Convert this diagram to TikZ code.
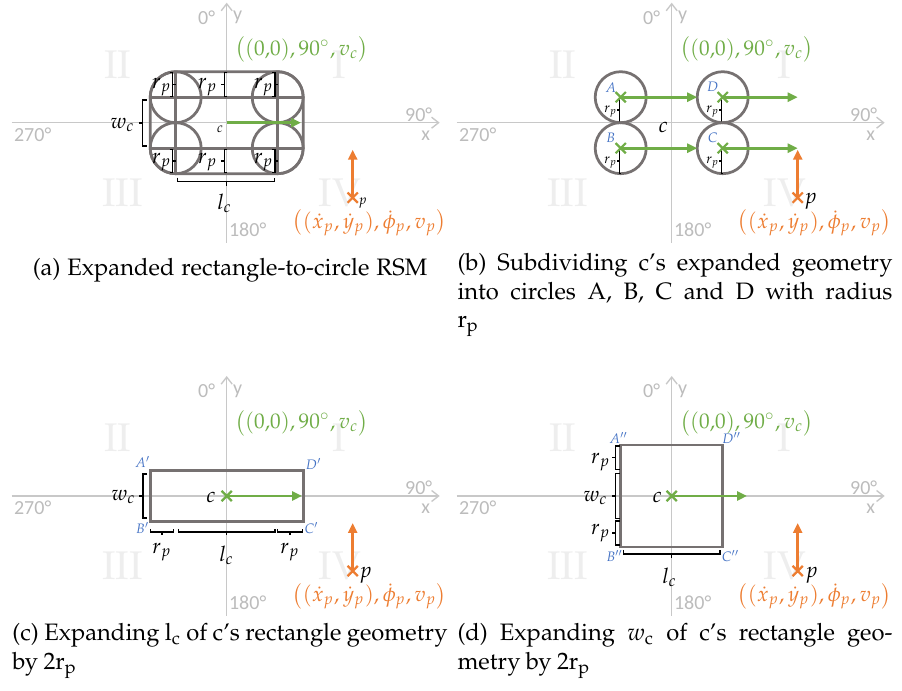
\documentclass[tikz,border=0pt]{standalone}
\usepackage{mathpazo}
\usepackage[no-math]{fontspec}
\newfontfamily\axisfont{Carlito}
\newcommand{\palfont}{\fontencoding{OT1}\fontfamily{pplx}\selectfont}
\usetikzlibrary{arrows.meta,shapes.misc}
\usepackage{xcolor}
\definecolor{axisgray}{RGB}{200,200,200}
\definecolor{axistext}{RGB}{188,188,188}
\definecolor{quadgray}{RGB}{238,238,238}
\definecolor{shapegray}{RGB}{118,113,113}
\definecolor{carGreen}{RGB}{112,173,71}
\definecolor{pedOrange}{RGB}{237,125,49}
\definecolor{cornerBlue}{RGB}{68,114,196}

% bracket: x, top, bottom, hook
\newcommand{\vbrak}[4]{\draw[brk] ({#1+#4},#2) -- (#1,#2) -- (#1,#3) -- ({#1+#4},#3)
  (#1,{(#2+#3)/2}) -- ({#1-#4},{(#2+#3)/2});}
% bracket: y, left, right, hook
\newcommand{\hbrak}[4]{\draw[brk] (#2,{#1+#4}) -- (#2,#1) -- (#3,#1) -- (#3,{#1+#4})
  ({(#2+#3)/2},#1) -- ({(#2+#3)/2},{#1-#4});}
\newlength{\caplab}
\newcommand{\subcap}[2]{\spaceskip=.23em plus .2em minus .09em
  \settowidth{\caplab}{(#1)\ }\hangindent=\caplab\hangafter=1 (#1)\ #2}

\begin{document}
\begin{tikzpicture}[
  x=0.4pt, y=-0.4pt,
  axis/.style={draw=axisgray, line width=0.55pt, -{Straight Barb[length=2.8pt,width=4.4pt]}},
  axislbl/.style={font=\axisfont\fontsize{8}{9}\selectfont, text=axistext, inner sep=0pt},
  quadnum/.style={font=\palfont\fontsize{16}{16}\selectfont, text=quadgray, inner sep=0pt},
  geom/.style={draw=shapegray, line width=1.1pt},
  brk/.style={draw=black, line width=0.5pt},
  heading/.style={draw=carGreen, line width=1.1pt, -{Triangle[length=4pt,width=3.6pt]}},
  pedheading/.style={draw=pedOrange, line width=1.1pt, -{Triangle[length=4pt,width=3.6pt]}},
  xmark/.style={cross out, draw, line width=0.9pt, minimum size=3.2pt, inner sep=0pt},
  mlbl/.style={font=\fontsize{8.5}{10}\selectfont, inner sep=0pt},
  smalllbl/.style={font=\fontsize{5.5}{6.5}\selectfont, inner sep=0pt},
  corner/.style={smalllbl, text=cornerBlue},
  capt/.style={font=\palfont\fontsize{9.5}{11.4}\selectfont, inner sep=0pt}
]
\useasboundingbox (0,0) rectangle (902,691);

% common frame of each panel
\foreach \ox/\oy/\n in {226.7/122.7/a, 671.7/122.7/b, 226.7/496/c, 671.7/496/d}{
  \begin{scope}[shift={(\ox,\oy)}]
    \node[quadnum] (\n-II) at (-109,-58) {II};
    \node[quadnum] (\n-I) at (113,-58) {I};
    \node[quadnum] (\n-III) at (-104,70) {III};
    \node[quadnum] (\n-IV) at (113,70) {IV};
    \coordinate (\n-xs) at (-215,0);
    \coordinate (\n-xe) at (213,0);
    \coordinate (\n-ys) at (0,120);
    \coordinate (\n-ye) at (0,-120);
    \draw[axis] (\n-xs) -- (\n-xe);
    \draw[axis] (\n-ys) -- (\n-ye);
    \node[axislbl] (\n-deg0) at (-20,-105) {0°};
    \node[axislbl] (\n-ylbl) at (11,-105) {y};
    \node[axislbl] (\n-deg90) at (192,-8) {90°};
    \node[axislbl] (\n-xlbl) at (199,13) {x};
    \node[axislbl] (\n-deg270) at (-194,12) {270°};
    \node[axislbl] (\n-deg180) at (21,107) {180°};
    \node[mlbl, text=carGreen] (\n-cstate) at (75,-73) {$\big((0{,}0),90^{\circ},v_c\big)$};
    \node[mlbl, text=pedOrange] (\n-pstate) at (143,100) {$\big((\dot{x}_p,\dot{y}_p),\dot{\phi}_p,v_p\big)$};
    \coordinate (\n-ptip) at (126,27);
    \node[xmark, pedOrange] (\n-p) at (126,75) {};
    \draw[pedheading] (\n-p.center) -- (\n-ptip);
  \end{scope}
}

% (a) expanded rectangle-to-circle
\begin{scope}[shift={(226.7,122.7)}]
  \draw[geom, rounded corners=10.2pt] (-76.5,-51) rectangle (76.5,51);
  \draw[geom] (-76.5,-25.5) -- (76.5,-25.5) (-76.5,25.5) -- (76.5,25.5)
    (-51,-51) -- (-51,51) (51,-51) -- (51,51);
  \foreach \cx/\cy in {-51/-25.5, 51/-25.5, -51/25.5, 51/25.5}
    \draw[geom] (\cx,\cy) circle[radius=10.2pt];
  \vbrak{-84}{-22.7}{23.3}{4}
  \node[mlbl] (a-wc) at (-104,2) {$w_c$};
  \hbrak{59}{-49}{48}{-4}
  \node[mlbl] (a-lc) at (-2,81) {$l_c$};
  \foreach \bx/\hk in {-54/-3, -2.4/3, 48.3/-3}{
    \vbrak{\bx}{-50}{-26.5}{\hk}
    \vbrak{\bx}{26.5}{50}{\hk}
  }
  \node[mlbl] (a-rp1) at (-65,-36) {$r_p$};
  \node[mlbl] (a-rp2) at (-19,-36) {$r_p$};
  \node[mlbl] (a-rp3) at (37,-36) {$r_p$};
  \node[mlbl] (a-rp4) at (-65,39) {$r_p$};
  \node[mlbl] (a-rp5) at (-19,39) {$r_p$};
  \node[mlbl] (a-rp6) at (37,39) {$r_p$};
  \coordinate (a-c) at (0,0);
  \coordinate (a-head) at (74.3,0);
  \draw[heading] (a-c) -- (a-head);
  \node[smalllbl] (a-clbl) at (-6.7,6.3) {$c$};
  \node[smalllbl] (a-plbl) at (136,80) {$p$};
\end{scope}

% (b) four circles A, B, C, D
\begin{scope}[shift={(671.7,122.7)}]
  \foreach \nm/\cx/\cy in {A/-51/-25.5, D/51/-25.5, B/-51/25.5, C/51/25.5}{
    \coordinate (b-\nm) at (\cx,\cy);
    \draw[geom] (b-\nm) circle[radius=10.2pt];
    \vbrak{\cx-1.5}{\cy}{\cy+25.5}{2}
    \node[smalllbl] (b-\nm-rp) at ({\cx-10},{\cy+14}) {$r_p$};
    \node[corner] (b-\nm-lbl) at ({\cx-10},{\cy-10}) {$\nm$};
  }
  \coordinate (b-Aend) at (25.5,-25.5);
  \coordinate (b-Dend) at (126,-25.5);
  \coordinate (b-Bend) at (25.5,25.5);
  \coordinate (b-Cend) at (126,25.5);
  \draw[heading] (b-A) -- (b-Aend);
  \draw[heading] (b-D) -- (b-Dend);
  \draw[heading] (b-B) -- (b-Bend);
  \draw[heading] (b-C) -- (b-Cend);
  \foreach \nm in {A,B,C,D}
    \node[xmark, carGreen] (b-\nm-x) at (b-\nm) {};
  \node[mlbl] (b-clbl) at (-8.4,5) {$c$};
  \node[mlbl] (b-plbl) at (139,79) {$p$};
\end{scope}

% (c) length expanded
\begin{scope}[shift={(226.7,496)}]
  \draw[geom] (-76.5,-25.5) rectangle (76.5,25.5);
  \node[corner] (c-A) at (-84,-34) {$A'$};
  \node[corner] (c-D) at (87,-32) {$D'$};
  \node[corner] (c-B) at (-84,32) {$B'$};
  \node[corner] (c-C) at (85,32) {$C'$};
  \vbrak{-83.7}{-22}{22}{4}
  \node[mlbl] (c-wc) at (-103,1) {$w_c$};
  \hbrak{36}{-76.5}{-53}{-3}
  \hbrak{36}{-48.4}{48.3}{-3}
  \hbrak{36}{51}{75.5}{-3}
  \node[mlbl] (c-rp1) at (-64.7,56) {$r_p$};
  \node[mlbl] (c-lc) at (0,59) {$l_c$};
  \node[mlbl] (c-rp2) at (63.3,56) {$r_p$};
  \coordinate (c-c) at (0,0);
  \coordinate (c-head) at (75.3,0);
  \draw[heading] (c-c) -- (c-head);
  \node[xmark, carGreen] (c-x) at (c-c) {};
  \node[mlbl] (c-clbl) at (-15.7,1) {$c$};
  \node[mlbl] (c-plbl) at (139,79) {$p$};
\end{scope}

% (d) width expanded
\begin{scope}[shift={(671.7,496)}]
  \draw[geom] (-51,-51) rectangle (51,51);
  \node[corner] (d-A) at (-53,-58) {$A''$};
  \node[corner] (d-D) at (60,-58) {$D''$};
  \node[corner] (d-B) at (-57,60) {$B''$};
  \node[corner] (d-C) at (59,60) {$C''$};
  \vbrak{-56}{-50}{-26.5}{4}
  \vbrak{-56}{-22.5}{22.3}{4}
  \vbrak{-56}{25}{49}{4}
  \node[mlbl] (d-rp1) at (-71,-34) {$r_p$};
  \node[mlbl] (d-wc) at (-76,2) {$w_c$};
  \node[mlbl] (d-rp2) at (-71,37) {$r_p$};
  \hbrak{58}{-48.3}{48.3}{-4}
  \node[mlbl] (d-lc) at (-2,81) {$l_c$};
  \coordinate (d-c) at (0,0);
  \coordinate (d-head) at (75.3,0);
  \draw[heading] (d-c) -- (d-head);
  \node[xmark, carGreen] (d-x) at (d-c) {};
  \node[mlbl] (d-clbl) at (-14.5,1) {$c$};
  \node[mlbl] (d-plbl) at (140,79) {$p$};
\end{scope}

% captions
\node[capt, anchor=base] (cap-a) at (230,276) {(a) Expanded rectangle-to-circle RSM};
\node[capt, anchor=base west, text width=174pt, align=justify] (cap-b) at (457,271)
  {\subcap{b}{Subdividing c's expanded geometry\linebreak into circles A, B, C and D with radius\linebreak $\mathrm{r_p}$}};
\node[capt, anchor=base west, text width=174pt, align=justify] (cap-c) at (12,641)
  {\subcap{c}{Expanding $\mathrm{l_c}$ of c's rectangle geometry\linebreak by 2$\mathrm{r_p}$}};
\node[capt, anchor=base west, text width=174pt, align=justify] (cap-d) at (457,641)
  {\subcap{d}{Expanding $w_\mathrm{c}$ of c's rectangle geo-\linebreak metry by 2$\mathrm{r_p}$}};
\end{tikzpicture}
\end{document}
